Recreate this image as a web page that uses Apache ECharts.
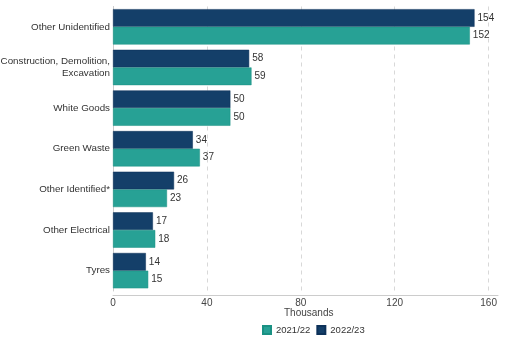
<!DOCTYPE html>
<html><head><meta charset="utf-8">
<script src="https://cdn.jsdelivr.net/npm/echarts@6/dist/echarts.min.js"></script>
<style>html,body{margin:0;padding:0;background:#fff}#c{width:512px;height:341px}</style>
</head><body><div id="c"></div>
<script>
const categories = ['Other Unidentified','Construction, Demolition,\nExcavation','White Goods','Green Waste','Other Identified*','Other Electrical','Tyres'];
const s2122 = [152,59,50,37,23,18,15];
const s2223 = [154,58,50,34,26,17,14];
const xTicks = [0,40,80,120,160];
const chart = echarts.init(document.getElementById('c'));
const font = 'Liberation Sans, Arial, sans-serif';
chart.setOption({
  animation:false,
  textStyle:{fontFamily:font},
  title:{text:'Thousands',left:284,top:308,padding:0,textStyle:{fontSize:10,fontWeight:'normal',color:'#444',fontFamily:font}},
  grid:{left:113,right:14,top:6.5,bottom:50,containLabel:false,outerBoundsMode:'none'},
  legend:{data:['2021/22','2022/23'],top:325,left:262,padding:0,itemWidth:8,itemHeight:8,itemGap:6,icon:'rect',
    textStyle:{fontSize:9.5,color:'#333',fontFamily:font}},
  xAxis:{type:'value',min:0,max:164,interval:40,offset:4,
    axisLine:{show:true,lineStyle:{color:'#ccc'}},axisTick:{show:false},
    axisLabel:{fontSize:10,color:'#444',margin:3,showMaxLabel:false,formatter:v=>xTicks.includes(v)?String(v):''},
    splitLine:{show:true,lineStyle:{color:['#d8d8d8','#d8d8d8','#d8d8d8','#d8d8d8','#d8d8d8','rgba(0,0,0,0)'],type:[4,4]}}},
  yAxis:{type:'category',data:categories,inverse:true,
    axisLine:{show:true,lineStyle:{color:'#ccc'}},axisTick:{show:false},
    axisLabel:{fontSize:9.8,color:'#333',margin:3,lineHeight:12,fontFamily:font}},
  series:[
    {name:'2022/23',type:'bar',data:s2223,barGap:'0%',barCategoryGap:'13%',
     itemStyle:{color:'#143F69',borderColor:'#0d3159',borderWidth:0.5},
     label:{show:true,position:'right',distance:3,fontSize:10,color:'#333'}},
    {name:'2021/22',type:'bar',data:s2122,barGap:'0%',barCategoryGap:'13%',
     itemStyle:{color:'#27A195',borderColor:'#1a9183',borderWidth:0.5},
     label:{show:true,position:'right',distance:3,fontSize:10,color:'#333'}}
  ]
});
</script></body></html>
